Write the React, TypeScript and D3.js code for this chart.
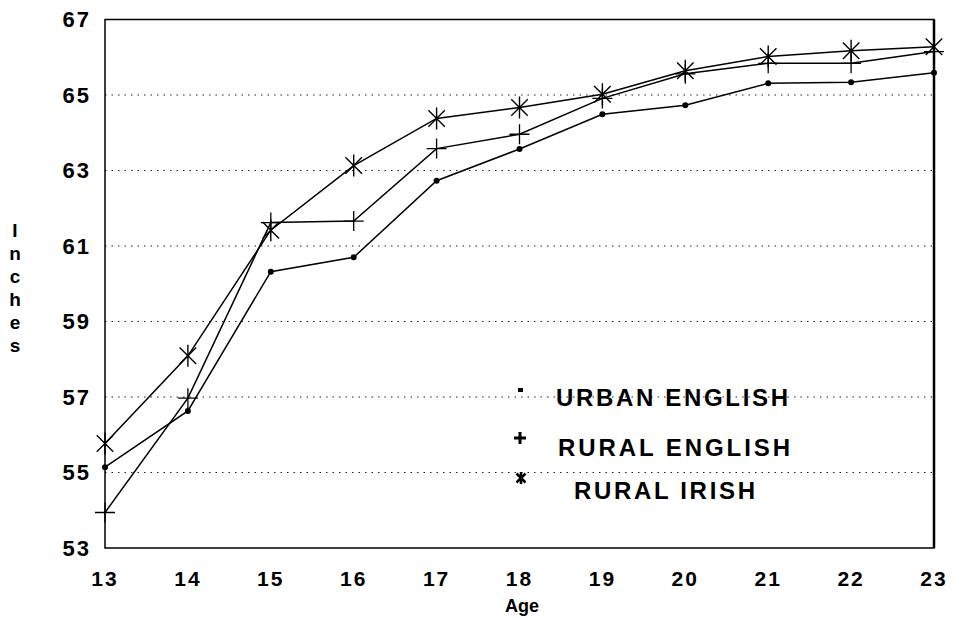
import React from 'react';
import * as d3 from 'd3';

const ages = [13, 14, 15, 16, 17, 18, 19, 20, 21, 22, 23];
const urbanEnglish = [55.14, 56.63, 60.32, 60.7, 62.73, 63.57, 64.49, 64.73, 65.31, 65.34, 65.59];
const ruralEnglish = [53.94, 56.97, 61.62, 61.66, 63.58, 63.96, 64.91, 65.56, 65.84, 65.84, 66.15];
const ruralIrish = [55.77, 58.09, 61.42, 63.13, 64.38, 64.67, 65.02, 65.64, 66.02, 66.17, 66.28];
const yTicks = [53, 55, 57, 59, 61, 63, 65, 67];
const gridTicks = [55, 57, 59, 61, 63, 65];
const legendLabels = ['URBAN ENGLISH', 'RURAL ENGLISH', 'RURAL IRISH'];
const yTitle = 'Inches'.split('');

const W = 956;
const H = 620;
const FONT = '"Liberation Sans", Arial, sans-serif';

const x = d3.scaleLinear().domain([13, 23]).range([105, 934]);
const y = d3.scaleLinear().domain([53, 67]).range([548, 19.5]);

const line = d3.line<number>()
    .x((_, i) => x(ages[i]))
    .y(d => y(d));

const Dot = ({ cx, cy }: { cx: number; cy: number }) => (
    <circle cx={cx} cy={cy} r={3} fill="#000" />
);

const Plus = ({ cx, cy, r = 10, w = 1.3 }: { cx: number; cy: number; r?: number; w?: number }) => (
    <path d={`M${cx - r},${cy}H${cx + r}M${cx},${cy - r}V${cy + r}`} stroke="#000" strokeWidth={w} />
);

const Star = ({ cx, cy, r = 11, w = 1.4 }: { cx: number; cy: number; r?: number; w?: number }) => {
    const d = r * 0.75;
    return (
        <path
            d={`M${cx},${cy - r}V${cy + r}M${cx - d},${cy - d}L${cx + d},${cy + d}M${cx - d},${cy + d}L${cx + d},${cy - d}`}
            stroke="#000"
            strokeWidth={w}
        />
    );
};

const App = () => {
    return (
        <svg
            width={W}
            height={H}
            style={{ position: 'absolute', left: 0, top: 0, background: '#fff' }}
            fontFamily={FONT}
        >
            <rect width={W} height={H} fill="#fff" />

            {/* dotted gridlines */}
            {gridTicks.map(t => (
                <line
                    key={t}
                    x1={x(13)}
                    x2={x(23)}
                    y1={y(t)}
                    y2={y(t)}
                    stroke="#222"
                    strokeWidth={1}
                    strokeDasharray="1.5 5"
                />
            ))}

            {/* frame */}
            <rect
                x={x(13)}
                y={y(67)}
                width={x(23) - x(13)}
                height={y(53) - y(67)}
                fill="none"
                stroke="#000"
                strokeWidth={1.5}
            />
            <line x1={x(23)} x2={x(23)} y1={y(67)} y2={y(53)} stroke="#000" strokeWidth={2.5} />

            {/* y tick labels */}
            {yTicks.map(t => (
                <text
                    key={t}
                    x={91}
                    y={y(t)}
                    dy="0.36em"
                    textAnchor="end"
                    fontSize={22}
                    fontWeight="bold"
                    letterSpacing={2}
                >
                    {t}
                </text>
            ))}

            {/* x tick labels */}
            {ages.map(a => (
                <text
                    key={a}
                    x={x(a)}
                    y={578}
                    dy="0.36em"
                    textAnchor="middle"
                    fontSize={21}
                    fontWeight="bold"
                    letterSpacing={2}
                >
                    {a}
                </text>
            ))}

            <text x={522} y={606} dy="0.36em" textAnchor="middle" fontSize={18} fontWeight="bold">
                Age
            </text>

            {yTitle.map((c, i) => (
                <text
                    key={i}
                    x={15}
                    y={230 + i * 23}
                    dy="0.36em"
                    textAnchor="middle"
                    fontSize={19}
                    fontWeight="bold"
                >
                    {c}
                </text>
            ))}

            {/* series lines */}
            {[urbanEnglish, ruralEnglish, ruralIrish].map((s, i) => (
                <path key={i} d={line(s) || ''} fill="none" stroke="#000" strokeWidth={1.5} />
            ))}

            {/* markers */}
            {urbanEnglish.map((v, i) => (
                <Dot key={'u' + i} cx={x(ages[i])} cy={y(v)} />
            ))}
            {ruralEnglish.map((v, i) => (
                <Plus key={'r' + i} cx={x(ages[i])} cy={y(v)} />
            ))}
            {ruralIrish.map((v, i) => (
                <Star key={'s' + i} cx={x(ages[i])} cy={y(v)} />
            ))}

            {/* legend */}
            <rect x={518} y={388} width={5} height={4} fill="#000" />
            <Plus cx={520} cy={438} r={6} w={3} />
            <Star cx={521} cy={478} r={6} w={2.5} />
            <text x={556} y={397} dy="0.36em" fontSize={24} fontWeight="bold" textLength={232} lengthAdjust="spacing">
                {legendLabels[0]}
            </text>
            <text x={558} y={447} dy="0.36em" fontSize={24} fontWeight="bold" textLength={232} lengthAdjust="spacing">
                {legendLabels[1]}
            </text>
            <text x={574} y={490} dy="0.36em" fontSize={24} fontWeight="bold" textLength={181} lengthAdjust="spacing">
                {legendLabels[2]}
            </text>
        </svg>
    );
};

export default App;
